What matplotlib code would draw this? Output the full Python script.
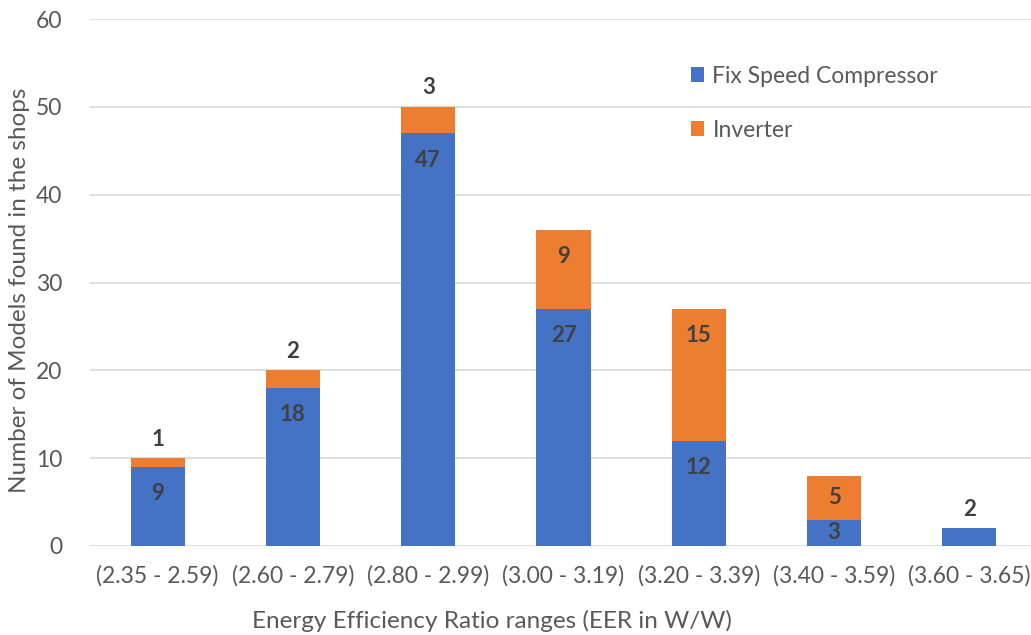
import numpy as np
import matplotlib
matplotlib.use("Agg")
import matplotlib.pyplot as plt

plt.rcParams['font.family'] = ['Lato', 'DejaVu Sans']

eer_ranges = ['(2.35 - 2.59)', '(2.60 - 2.79)', '(2.80 - 2.99)', '(3.00 - 3.19)',
              '(3.20 - 3.39)', '(3.40 - 3.59)', '(3.60 - 3.65)']
fix_speed = [9, 18, 47, 27, 12, 3, 2]
inverter = [1, 2, 3, 9, 15, 5, 0]
yticks = [0, 10, 20, 30, 40, 50, 60]

blue = '#4472C4'
orange = '#ED7D31'
grid_col = '#D9D9D9'
text_col = '#595959'
label_col = '#404040'

W, H = 1031, 635
fig = plt.figure(figsize=(W / 100, H / 100), dpi=100)
# plot area in pixels: left 90, right 1037 (runs past the edge), y=0 at 546, y=60 at 19
ax_w = 1037 - 90
ax = fig.add_axes([90 / W, 1 - 546 / H, ax_w / W, (546 - 19) / H])

x = np.arange(len(eer_ranges))
bw = 0.4
ax.bar(x, fix_speed, bw, color=blue, label='Fix Speed Compressor', zorder=3, linewidth=0)
ax.bar(x, inverter, bw, bottom=fix_speed, color=orange, label='Inverter', zorder=3, linewidth=0)

ax.set_xlim(-0.5, len(eer_ranges) - 0.5)
ax.set_ylim(0, 60)
ax.set_yticks(yticks)
ax.yaxis.grid(True, color=grid_col, linewidth=1.2, zorder=0)
ax.set_axisbelow(True)
for s in ax.spines.values():
    s.set_visible(False)
ax.tick_params(length=0, labelsize=16.5, colors=text_col)
ax.tick_params(axis='y', pad=20)
ax.set_xticks(x)
ax.set_xticklabels(eer_ranges)
ax.tick_params(axis='x', pad=14)

# data units per pixel for label placement
upp = 60 / (546 - 19)
inside_off = 27 * upp
above_off = 19 * upp

def put_label(xc, bottom, val, is_top):
    if val == 0:
        return
    top = bottom + val
    if is_top and val / upp < 30:
        y = top + above_off
    else:
        y = max(top - inside_off, bottom + val / 2)
    ax.text(xc, y, str(val), ha='center', va='center', fontsize=16,
            fontweight='bold', color=label_col, zorder=4)

for i in range(len(x)):
    put_label(x[i], 0, fix_speed[i], inverter[i] == 0)
    put_label(x[i], fix_speed[i], inverter[i], True)

fig.text(20 / W, 1 - 290 / H, 'Number of Models found in the shops', rotation=90,
         ha='center', va='center', fontsize=17.5, color=text_col)
fig.text(492 / W, 1 - 621 / H, 'Energy Efficiency Ratio ranges (EER in W/W)',
         ha='center', va='center', fontsize=17.5, color=text_col)

leg = ax.legend(loc='upper left', bbox_to_anchor=(670 / W, 1 - 45 / H),
                bbox_transform=fig.transFigure, frameon=False, fontsize=16.5,
                handlelength=0.6, handleheight=0.6, handletextpad=0.35,
                labelspacing=1.45, labelcolor=text_col)

fig.savefig('out.png', dpi=100)
